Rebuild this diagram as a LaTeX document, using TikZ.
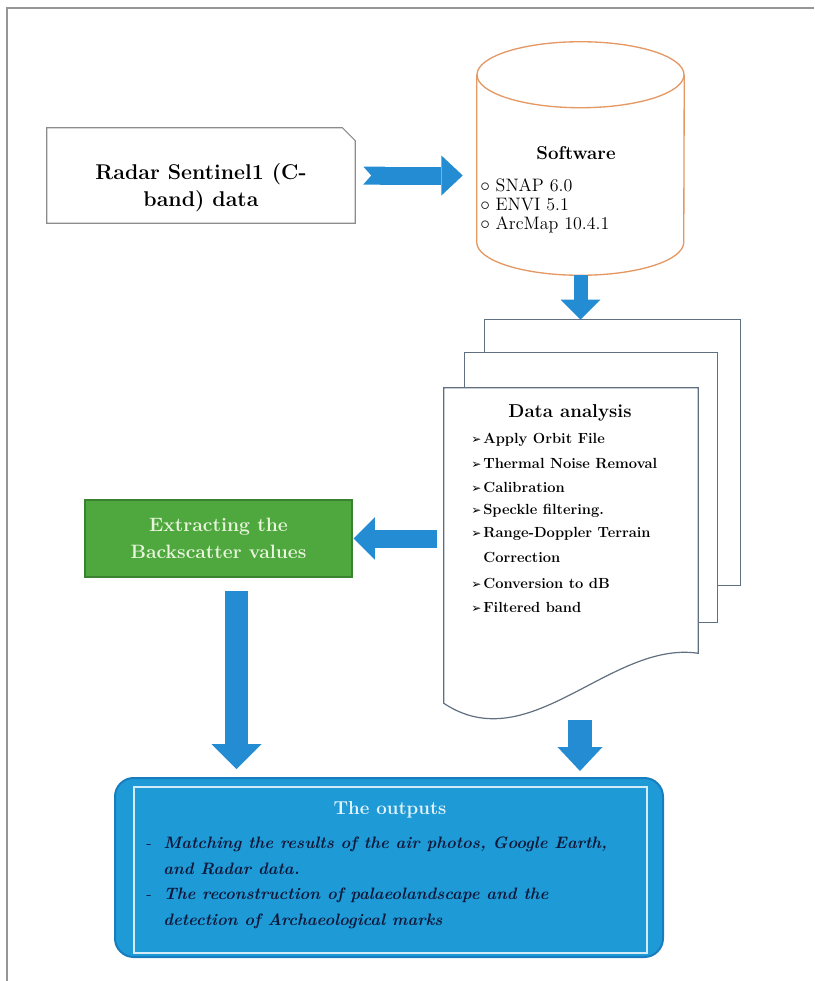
\documentclass[tikz,border=0pt]{standalone}
\usepackage{fontspec}
\usepackage{tikz}
\usetikzlibrary{calc, arrows.meta}
\newfontfamily\dingfont{DejaVu Sans}
\newcommand{\stepmark}{{\dingfont\fontsize{9}{9}\selectfont ➢}\hspace{1.5pt}}

\definecolor{arrowblue}{RGB}{36,140,210}
\definecolor{boxgreen}{RGB}{78,168,62}
\definecolor{greenedge}{RGB}{58,130,48}
\definecolor{outblue}{RGB}{30,155,215}
\definecolor{outedge}{RGB}{24,125,190}
\definecolor{cylorange}{RGB}{228,152,100}
\definecolor{pagegray}{RGB}{96,112,128}
\definecolor{framegray}{RGB}{150,150,150}
\definecolor{navy}{RGB}{14,24,58}
\definecolor{cream}{RGB}{232,244,220}

\tikzstyle{frame}=[draw=framegray, line width=0.8pt]
\tikzstyle{radarbox}=[minimum width=231pt, minimum height=71.25pt, inner sep=0pt]
\tikzstyle{snip}=[draw=black!45, line width=0.8pt]
\tikzstyle{bigtext}=[align=center, font=\fontsize{16}{20}\selectfont\bfseries]
\tikzstyle{cylbox}=[minimum width=155.25pt, minimum height=174.75pt, inner sep=0pt]
\tikzstyle{cyl}=[draw=cylorange, line width=1pt]
\tikzstyle{softhead}=[font=\fontsize{14}{16}\selectfont\bfseries]
\tikzstyle{softitem}=[anchor=west, inner sep=0pt, font=\fontsize{13.5}{15}\selectfont]
\tikzstyle{pagebox}=[minimum width=190.5pt, minimum height=236.25pt, inner sep=0pt]
\tikzstyle{page}=[draw=pagegray, line width=0.9pt]
\tikzstyle{dhead}=[font=\fontsize{14}{16}\selectfont\bfseries]
\tikzstyle{dstep}=[anchor=west, inner sep=0pt, font=\fontsize{11}{13}\selectfont\bfseries]
\tikzstyle{greenbox}=[shape=rectangle, fill=boxgreen, draw=greenedge, line width=0.8pt, minimum width=200.25pt, minimum height=57.75pt, align=center, text=cream, font=\fontsize{14.5}{20}\selectfont\bfseries]
\tikzstyle{outbox}=[shape=rectangle, rounded corners=14pt, fill=outblue, draw=outedge, line width=1.5pt, minimum width=411pt, minimum height=134.25pt]
\tikzstyle{innerframe}=[draw=white!80!outblue, line width=1.2pt]
\tikzstyle{ohead}=[text=white!88!outblue, font=\fontsize{14}{16}\selectfont\bfseries]
\tikzstyle{oline}=[anchor=west, inner sep=0pt, text=navy, font=\fontsize{12.4}{14}\selectfont\bfseries\itshape]
\tikzstyle{fat}=[draw=arrowblue]

\begin{document}
\begin{tikzpicture}[x=0.75pt, y=-0.75pt]
\useasboundingbox (0,0) rectangle (814,981);

% frame
\draw[frame] (7,981) -- (7,8) -- (814,8);

% input data
\node[radarbox] (radar) at (201,175.5) {};
\draw[snip] (radar.south west) -- (radar.north west) -- ($(radar.north east)+(-13,0)$) -- ($(radar.north east)+(0,13)$) -- (radar.south east) -- cycle;
\node[bigtext] (rtext) at (201,188) {Radar Sentinel1 (C-\\band) data};

% software
\node[cylbox] (soft) at (580.5,158.5) {};
\draw[cyl] ($(soft.north west)+(0,33)$) -- ($(soft.south west)+(0,-33)$) arc[start angle=180, end angle=0, x radius=103.5, y radius=33] -- ($(soft.north east)+(0,33)$);
\draw[cyl] ($(soft.north)+(0,33)$) ellipse [x radius=103.5, y radius=33];
\node[softhead] (shead) at (576,153) {Software};
\node[softitem] (sw1) at (480,185) {$\circ$ SNAP 6.0};
\node[softitem] (sw2) at (480,205) {$\circ$ ENVI 5.1};
\node[softitem] (sw3) at (480,225) {$\circ$ ArcMap 10.4.1};

% data analysis
\node[pagebox] (stack) at (571,545.5) {};
\draw[page] ($(stack.north west)+(41,-35)$) -- ($(stack.north west)+(41,-68)$) -- ($(stack.north east)+(42,-68)$) -- ($(stack.south east)+(42,-118)$) -- ($(stack.south east)+(19,-118)$);
\draw[page] ($(stack.north west)+(21,0)$) -- ($(stack.north west)+(21,-35)$) -- ($(stack.north east)+(19,-35)$) -- ($(stack.south east)+(19,-81)$) -- ($(stack.south east)+(0,-81)$);
\draw[page] (stack.north west) -- (stack.north east) -- ($(stack.south east)+(0,-50)$) .. controls ($(stack.south east)+(-88,-63)$) and ($(stack.south west)+(86,57)$) .. (stack.south west) -- cycle;
\node[dhead] (dhead) at (570,413) {Data analysis};
\node[dstep] (d1) at (471,440) {\stepmark Apply Orbit File};
\node[dstep] (d2) at (471,463.5) {\stepmark Thermal Noise Removal};
\node[dstep] (d3) at (471,487) {\stepmark Calibration};
\node[dstep] (d4) at (471,510.5) {\stepmark Speckle filtering.};
\node[dstep] (d5) at (471,534) {\stepmark Range-Doppler Terrain};
\node[dstep] (d6) at (471,557.5) {\phantom{\stepmark}Correction};
\node[dstep] (d7) at (471,583) {\stepmark Conversion to dB};
\node[dstep] (d8) at (471,607) {\stepmark Filtered band};

% extraction
\node[greenbox] (green) at (218.5,538.5) {Extracting the\\Backscatter values};

% outputs
\node[outbox] (outp) at (389,867.5) {};
\draw[innerframe] ($(outp.north west)+(20,10)$) rectangle ($(outp.south east)+(-17,-5)$);
\node[ohead] (ohead) at (390,810) {The outputs};
\node[oline] (o1) at (146,844) {\makebox[13pt][l]{\mdseries\upshape -}Matching the results of the air photos, Google Earth,};
\node[oline] (o2) at (163,869) {and Radar data.};
\node[oline] (o3) at (146,895) {\makebox[13pt][l]{\mdseries\upshape -}The reconstruction of palaeolandscape and the};
\node[oline] (o4) at (163,921) {detection of Archaeological marks};

% arrows
\path[fat, line width=13.5pt, {Triangle Cap[reversed, length=6pt]}-{Triangle[width=30pt, length=16pt, line width=0pt]}, shorten <=6pt, shorten >=10.5pt] (radar.east) -- (radar.east -| soft.west);
\path[fat, line width=10.5pt, -{Triangle[width=30pt, length=15pt, line width=0pt]}, shorten >=51pt] (soft.south) -- (soft.south |- stack.north);
\path[fat, line width=13.5pt, -{Triangle[width=32pt, length=16pt, line width=0pt]}, shorten <=5.25pt, shorten >=0.75pt] (stack.west |- green.east) -- (green.east);
\path[fat, line width=17.25pt, -{Triangle[width=37.5pt, length=18.75pt, line width=0pt]}, shorten <=9.75pt, shorten >=6pt] ([xshift=13.5pt]green.south) -- ([xshift=13.5pt]green.south |- outp.north);
\path[fat, line width=18pt, -{Triangle[width=33.75pt, length=18pt, line width=0pt]}, shorten <=12.75pt, shorten >=4.5pt] ([xshift=6.75pt]stack.south) -- ([xshift=6.75pt]stack.south |- outp.north);

\end{tikzpicture}
\end{document}
